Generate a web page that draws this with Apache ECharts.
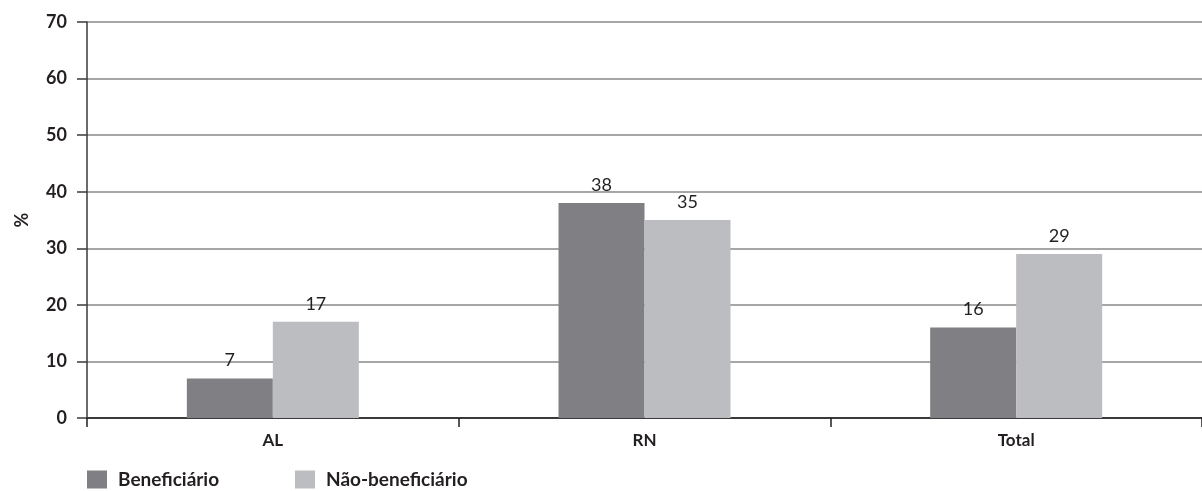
<!DOCTYPE html>
<html>
<head>
<meta charset="utf-8">
<script src="https://cdn.jsdelivr.net/npm/echarts@6/dist/echarts.min.js"></script>
<style>
  html, body { margin: 0; padding: 0; background: #fff; }
  #chart { width: 1202px; height: 491px; }
</style>
</head>
<body>
<div id="chart"></div>
<script>
// Share of households by region, beneficiaries vs. non-beneficiaries
const categories = ['AL', 'RN', 'Total'];
const seriesNames = ['Beneficiário', 'Não-beneficiário'];
const beneficiario = [7, 38, 16];
const naoBeneficiario = [17, 35, 29];
const yTicks = [0, 10, 20, 30, 40, 50, 60, 70];

const FONT = 'Lato, "Noto Sans", "DejaVu Sans", sans-serif';
const INK = '#231f20';
const chart = echarts.init(document.getElementById('chart'), null, { renderer: 'canvas' });

const labelStyle = {
  show: true,
  position: 'top',
  distance: 9,
  color: INK,
  fontFamily: FONT,
  fontSize: 18,
  fontWeight: 'normal'
};

const legendBase = {
  top: 470,
  padding: 0,
  itemWidth: 20,
  itemHeight: 18,
  icon: 'rect',
  textStyle: { fontFamily: FONT, fontSize: 19, fontWeight: 'bold', color: INK, padding: [0, 0, 0, 6] }
};

chart.setOption({
  animation: false,
  backgroundColor: '#ffffff',
  grid: { left: 87, width: 1122, top: 22, height: 396, containLabel: false },
  legend: [
    Object.assign({ left: 87, data: [seriesNames[0]] }, legendBase),
    Object.assign({ left: 295, data: [seriesNames[1]] }, legendBase)
  ],
  xAxis: {
    type: 'category',
    data: categories,
    axisLine: { lineStyle: { color: '#3a3a3a', width: 2 } },
    axisTick: { show: true, length: 9, lineStyle: { color: INK, width: 1.5 } },
    axisLabel: { fontFamily: FONT, fontSize: 17, fontWeight: 'bold', color: INK, margin: 14 }
  },
  yAxis: {
    type: 'value',
    min: yTicks[0],
    max: yTicks[yTicks.length - 1],
    interval: 10,
    name: '%',
    nameLocation: 'middle',
    nameGap: 56,
    nameRotate: 90,
    nameTextStyle: { fontFamily: FONT, fontSize: 18, fontWeight: 'bold', color: INK },
    axisLine: { show: true, lineStyle: { color: '#3a3a3a', width: 1.5 } },
    axisTick: { show: true, length: 10, lineStyle: { color: '#3a3a3a', width: 1.5 } },
    axisLabel: { fontFamily: FONT, fontSize: 18, fontWeight: 'bold', color: INK, margin: 20 },
    splitLine: { show: true, lineStyle: { color: '#a6a6a6', width: 2 } }
  },
  series: [
    {
      name: seriesNames[0],
      type: 'bar',
      data: beneficiario,
      barWidth: 86,
      barGap: '0%',
      itemStyle: { color: '#808084' },
      label: labelStyle
    },
    {
      name: seriesNames[1],
      type: 'bar',
      data: naoBeneficiario,
      barWidth: 86,
      barGap: '0%',
      itemStyle: { color: '#bcbdc1' },
      label: labelStyle
    }
  ]
});
</script>
</body>
</html>
